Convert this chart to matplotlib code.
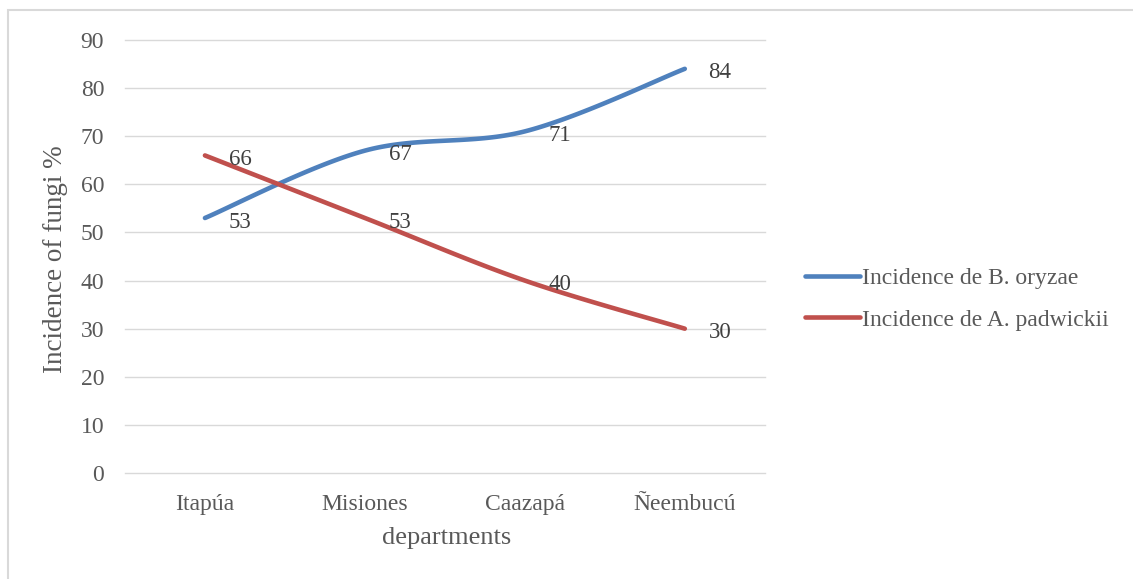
import numpy as np
import matplotlib.pyplot as plt
from matplotlib.patches import Rectangle

plt.rcParams['font.family'] = ['Liberation Serif', 'DejaVu Serif']

departments = ['Itapúa', 'Misiones', 'Caazapá', 'Ñeembucú']
b_oryzae = [53, 67, 71, 84]
a_padwickii = [66, 53, 40, 30]
series_names = ['Incidence de B. oryzae', 'Incidence de A. padwickii']
yticks = list(range(0, 91, 10))

BLUE = '#4F81BD'
RED = '#C0504D'
GRAY = '#595959'


def smooth(xs, ys, n=40):
    # Excel-like smoothed line: Catmull-Rom style cubic Bezier segments
    xs = np.asarray(xs, float)
    ys = np.asarray(ys, float)
    px = np.concatenate([[xs[0]], xs, [xs[-1]]])
    py = np.concatenate([[ys[0]], ys, [ys[-1]]])
    t = np.linspace(0, 1, n)
    ox, oy = [], []
    for i in range(1, len(px) - 2):
        p0 = np.array([px[i], py[i]])
        p3 = np.array([px[i + 1], py[i + 1]])
        p1 = p0 + (np.array([px[i + 1], py[i + 1]]) - np.array([px[i - 1], py[i - 1]])) / 6
        p2 = p3 - (np.array([px[i + 2], py[i + 2]]) - np.array([px[i], py[i]])) / 6
        b = ((1 - t) ** 3)[:, None] * p0 + (3 * (1 - t) ** 2 * t)[:, None] * p1 \
            + (3 * (1 - t) * t ** 2)[:, None] * p2 + (t ** 3)[:, None] * p3
        ox.extend(b[:, 0])
        oy.extend(b[:, 1])
    return np.array(ox), np.array(oy)


fig = plt.figure(figsize=(11.33, 5.79), dpi=100)
ax = fig.add_axes([0.1103, 0.183, 0.5647, 0.748])

x = np.arange(len(departments))
for vals, color, name in [(b_oryzae, BLUE, series_names[0]),
                          (a_padwickii, RED, series_names[1])]:
    sx, sy = smooth(x, vals)
    ax.plot(sx, sy, color=color, lw=3.3, solid_capstyle='round', label=name)
    for xi, v in zip(x, vals):
        ax.annotate(str(v), (xi, v), xytext=(17, -3), textcoords='offset points',
                    ha='left', va='center', fontsize=16.5, color='#404040')

ax.set_xlim(-0.5, len(departments) - 0.5)
ax.set_ylim(0, 90)
ax.set_yticks(yticks)
ax.set_xticks(x)
ax.set_xticklabels(departments)
ax.tick_params(axis='both', length=0, labelsize=17, labelcolor=GRAY)
ax.tick_params(axis='y', pad=15)
ax.tick_params(axis='x', pad=15)
ax.grid(axis='y', color='#D9D9D9', lw=1)
for gl in ax.get_ygridlines():
    gl.set_clip_on(False)
ax.set_axisbelow(True)
for s in ax.spines.values():
    s.set_visible(False)

ax.set_xlabel('departments', fontsize=19, color=GRAY, va='center')
ax.xaxis.set_label_coords(0.503, -0.15)
ax.set_ylabel('Incidence of fungi %', fontsize=19.5, color=GRAY, va='center')
ax.yaxis.set_label_coords(-0.108, 0.494)

leg = ax.legend(loc='center left', bbox_to_anchor=(1.0625, 0.402), frameon=False,
                fontsize=17, handlelength=2.33, handletextpad=0.08,
                labelspacing=0.85, borderpad=0, borderaxespad=0)
for t in leg.get_texts():
    t.set_color(GRAY)

fig.patches.append(Rectangle((8 / 1133, -0.1), 1.2, 1 - 10 / 579 + 0.1,
                             transform=fig.transFigure, fill=False,
                             edgecolor='#D9D9D9', lw=1.5))

fig.savefig('out.png', dpi=100)
